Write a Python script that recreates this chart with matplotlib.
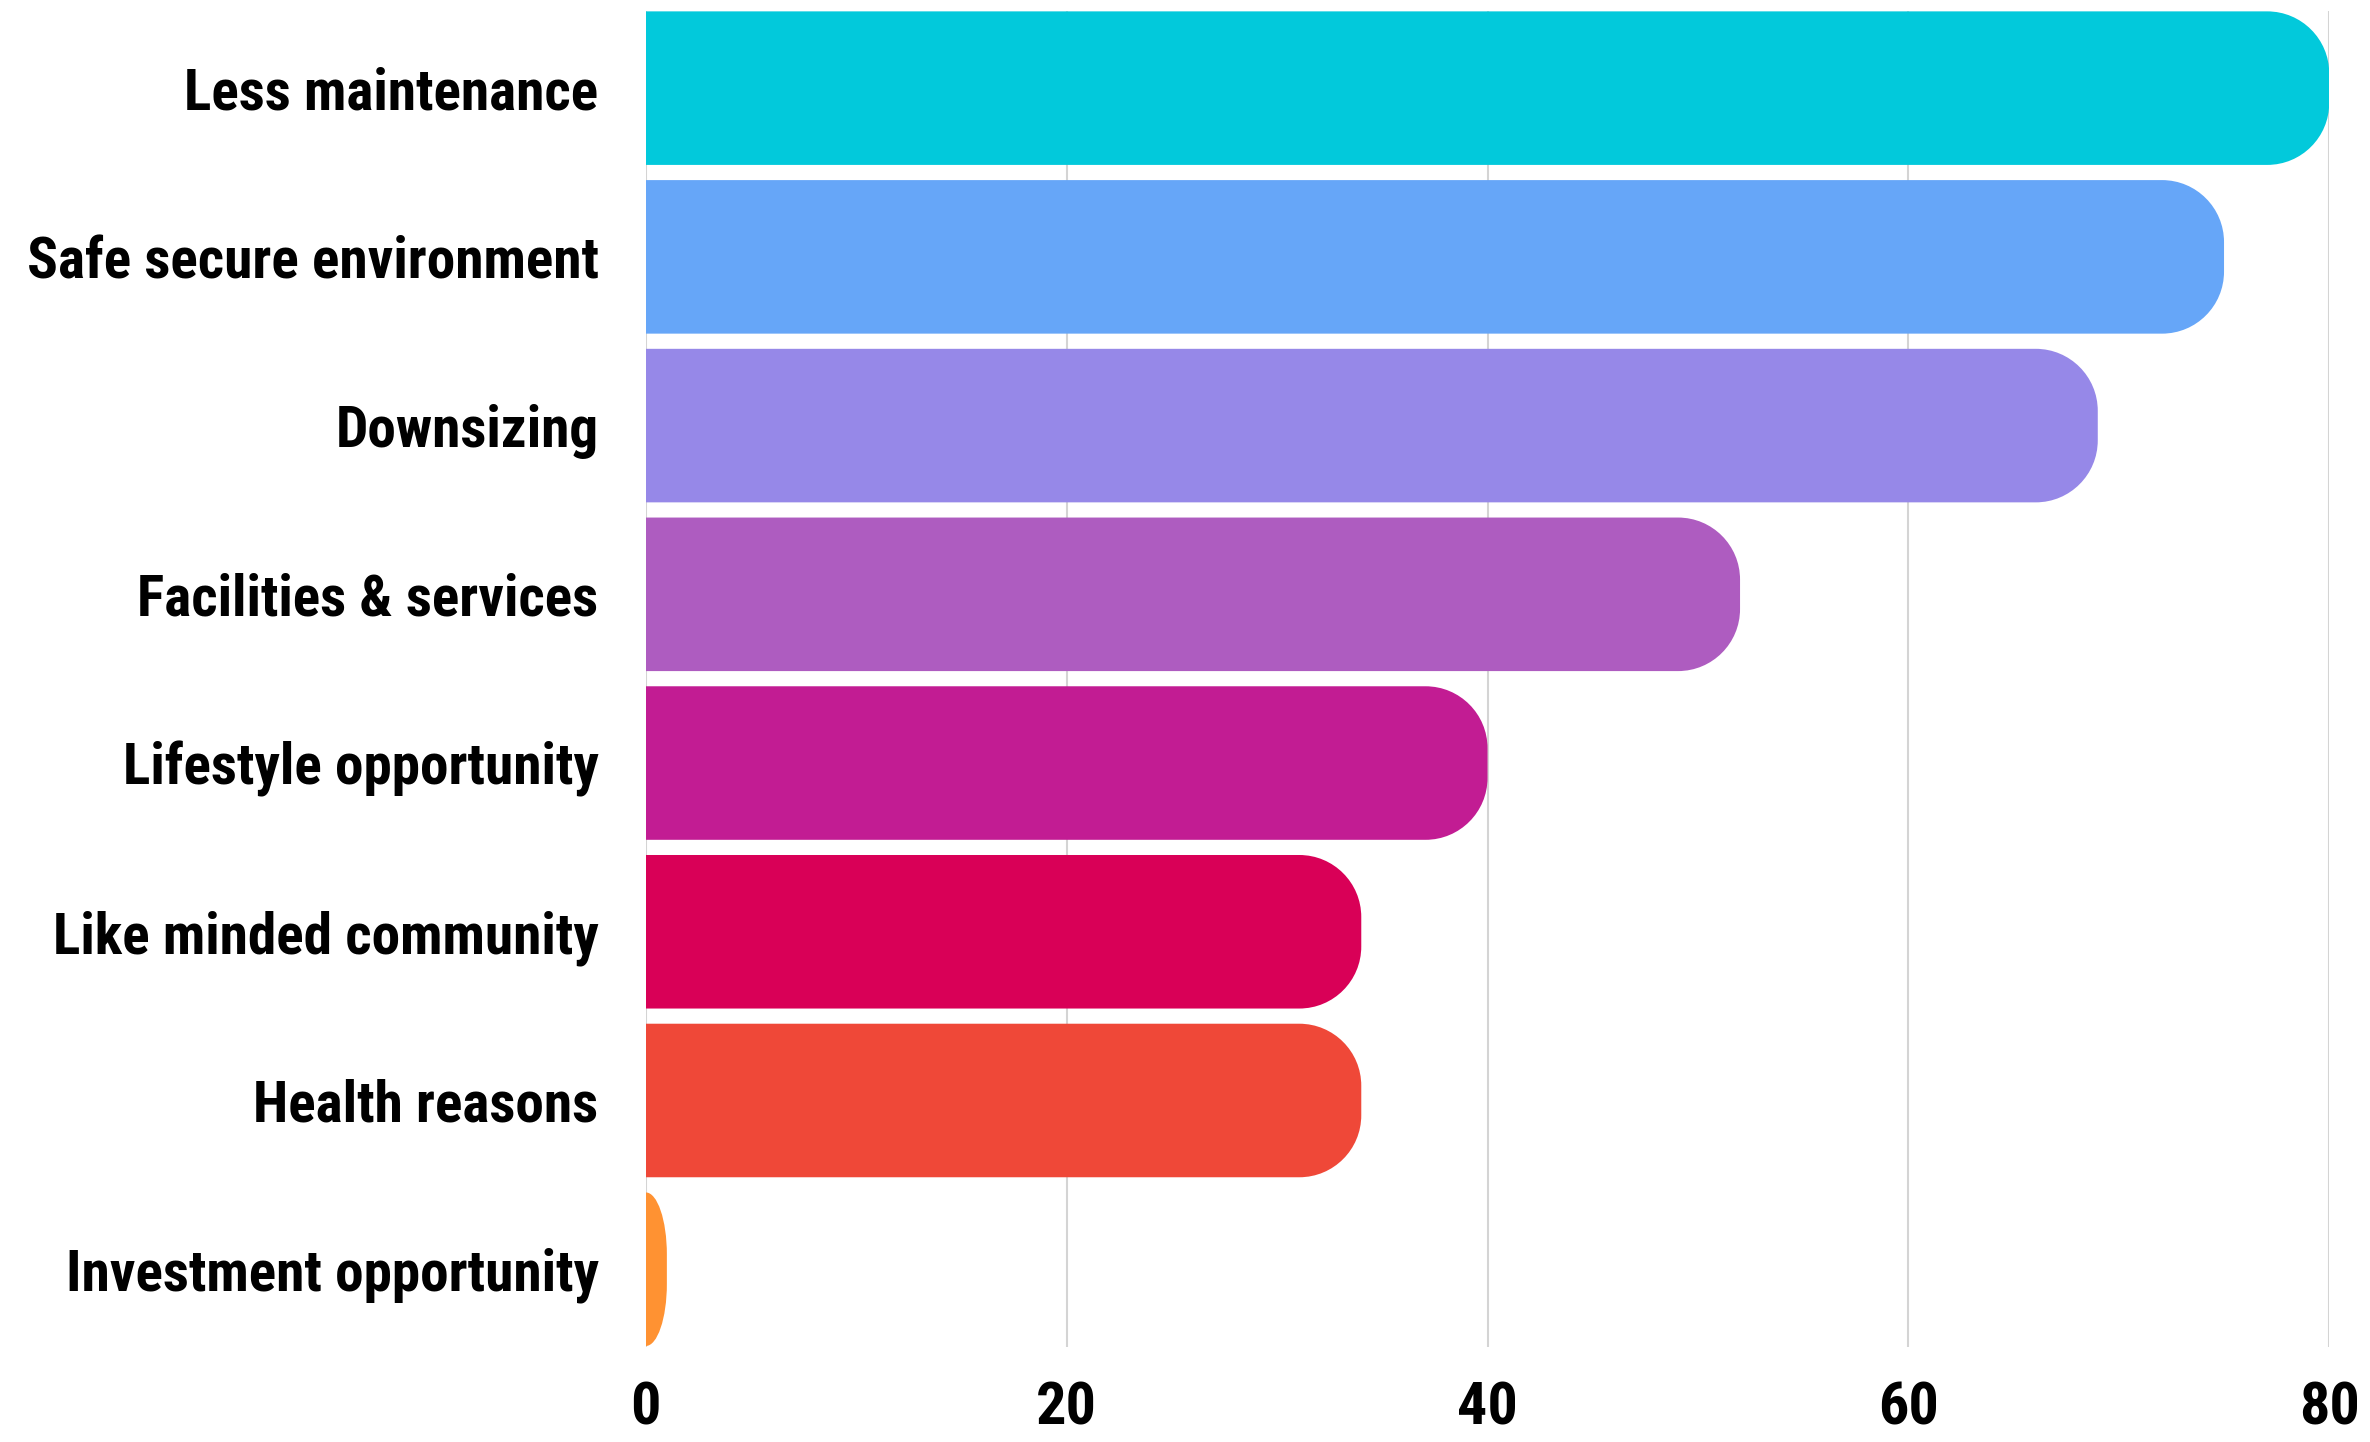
import matplotlib.pyplot as plt
from matplotlib.path import Path
from matplotlib.patches import PathPatch

reasons = ['Less maintenance', 'Safe secure environment', 'Downsizing',
           'Facilities & services', 'Lifestyle opportunity',
           'Like minded community', 'Health reasons', 'Investment opportunity']
counts = [80, 75, 69, 52, 40, 34, 34, 1]
colors = ['#02C9DB', '#66A6F8', '#9688E8', '#AE5CC0', '#C21C93',
          '#D90057', '#EF4838', '#FF9232']
ticks = [0, 20, 40, 60, 80]

FONT = ['Roboto Condensed', 'DejaVu Sans']
BAR_H = 0.91
RADIUS_PX = 62  # corner radius of the rounded bar end, in pixels
LABEL_W_PX = 572  # widest category label

fig = plt.figure(figsize=(23.7, 14.42), dpi=100)
ax = fig.add_axes([0.2725, 0.066, 0.7103, 0.9267])
ax.set_xlim(0, 80)
ax.set_ylim(len(reasons) - 1 + 0.46, -0.46)

# pixel -> data scaling so the corners come out circular
bbox = ax.get_window_extent()
px_x = bbox.width / 80
px_y = bbox.height / (len(reasons) - 1 + 0.92)
K = 0.5523


def rounded_bar(y, w, color):
    y0, y1 = y - BAR_H / 2, y + BAR_H / 2
    rx = min(RADIUS_PX / px_x, w)
    ry = RADIUS_PX / px_y
    verts = [(0, y0), (w - rx, y0),
             (w - rx + K * rx, y0), (w, y0 + ry - K * ry), (w, y0 + ry),
             (w, y1 - ry),
             (w, y1 - ry + K * ry), (w - rx + K * rx, y1), (w - rx, y1),
             (0, y1), (0, y0)]
    codes = [Path.MOVETO, Path.LINETO,
             Path.CURVE4, Path.CURVE4, Path.CURVE4,
             Path.LINETO,
             Path.CURVE4, Path.CURVE4, Path.CURVE4,
             Path.LINETO, Path.CLOSEPOLY]
    ax.add_patch(PathPatch(Path(verts, codes), facecolor=color,
                           edgecolor='none', zorder=3))


for i, (w, c) in enumerate(zip(counts, colors)):
    rounded_bar(i, w, c)

for t in ticks:
    ax.axvline(t, color='#d4d4d4', linewidth=1.5, zorder=1)

for s in ax.spines.values():
    s.set_visible(False)

# size the labels so the longest one fills the left margin
renderer = fig.canvas.get_renderer()
probe = fig.text(0, 0, max(reasons, key=len), family=FONT,
                 fontweight='bold', fontstretch='condensed', fontsize=30)
size = 30 * LABEL_W_PX / probe.get_window_extent(renderer).width
probe.remove()

ax.set_xticks(ticks)
ax.set_xticklabels([str(t) for t in ticks], family=FONT, fontweight='bold',
                   fontstretch='condensed', fontsize=size * 1.05)
ax.set_yticks(range(len(reasons)))
ax.set_yticklabels(reasons, family=FONT, fontweight='bold',
                   fontstretch='condensed', fontsize=size,
                   verticalalignment='center_baseline')
ax.tick_params(axis='both', length=0)
ax.tick_params(axis='y', pad=34)
ax.tick_params(axis='x', pad=24)

fig.savefig('out.png', dpi=100)
